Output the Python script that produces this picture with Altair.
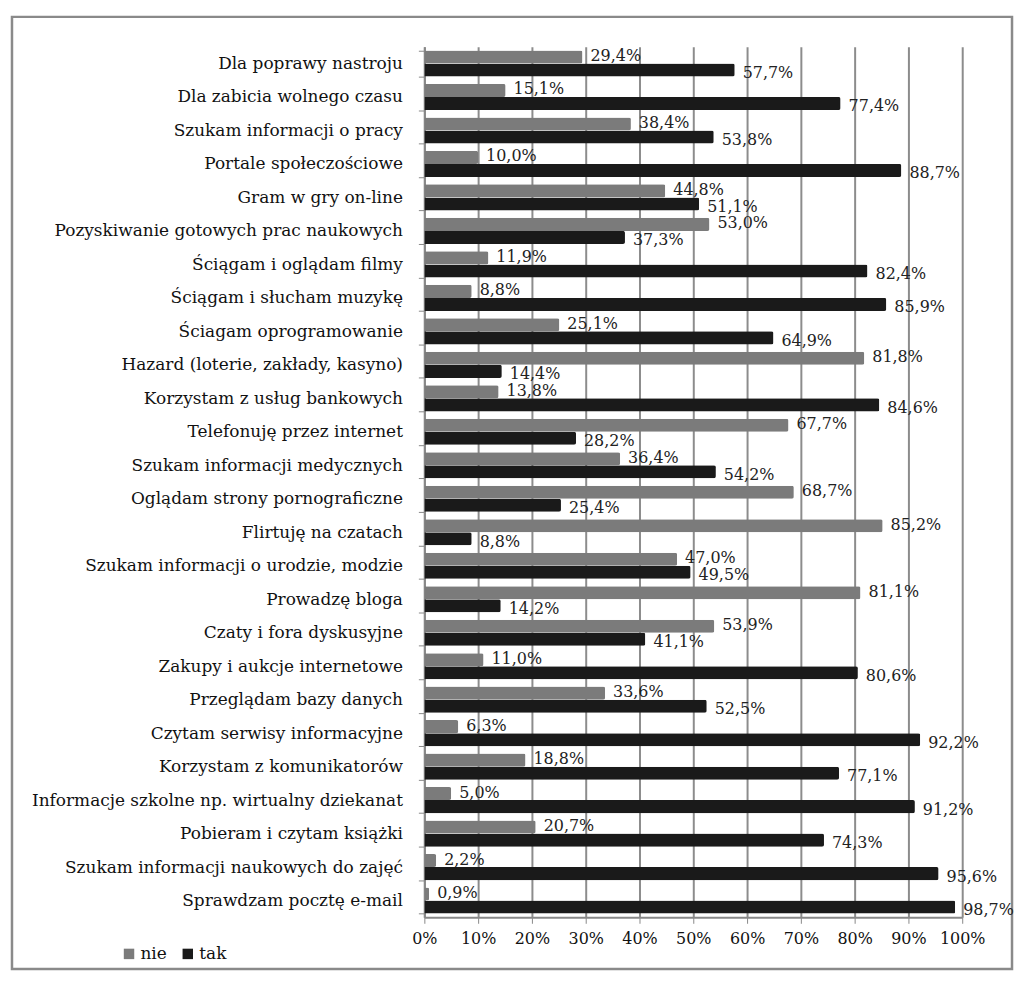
import altair as alt
import pandas as pd

categories = [
    "Dla poprawy nastroju",
    "Dla zabicia wolnego czasu",
    "Szukam informacji  o pracy",
    "Portale społeczościowe",
    "Gram w gry on-line",
    "Pozyskiwanie gotowych prac naukowych",
    "Ściągam i oglądam filmy",
    "Ściągam i słucham muzykę",
    "Ściagam oprogramowanie",
    "Hazard (loterie, zakłady, kasyno)",
    "Korzystam z usług bankowych",
    "Telefonuję przez internet",
    "Szukam informacji medycznych",
    "Oglądam strony pornograficzne",
    "Flirtuję na czatach",
    "Szukam informacji o urodzie, modzie",
    "Prowadzę bloga",
    "Czaty i fora dyskusyjne",
    "Zakupy i aukcje internetowe",
    "Przeglądam bazy danych",
    "Czytam serwisy informacyjne",
    "Korzystam z komunikatorów",
    "Informacje szkolne np. wirtualny dziekanat",
    "Pobieram i czytam książki",
    "Szukam informacji naukowych do zajęć",
    "Sprawdzam pocztę e-mail",
]
nie = [29.4, 15.1, 38.4, 10.0, 44.8, 53.0, 11.9, 8.8, 25.1, 81.8, 13.8, 67.7, 36.4,
       68.7, 85.2, 47.0, 81.1, 53.9, 11.0, 33.6, 6.3, 18.8, 5.0, 20.7, 2.2, 0.9]
tak = [57.7, 77.4, 53.8, 88.7, 51.1, 37.3, 82.4, 85.9, 64.9, 14.4, 84.6, 28.2, 54.2,
       25.4, 8.8, 49.5, 14.2, 41.1, 80.6, 52.5, 92.2, 77.1, 91.2, 74.3, 95.6, 98.7]
series = ["nie", "tak"]
colors = ["#7b7b7b", "#1a1a1a"]
tick_values = list(range(0, 101, 10))

rows = []
for c, a, b in zip(categories, nie, tak):
    for s, v in zip(series, (a, b)):
        rows.append({"cat": c, "seria": s, "val": v,
                     "label": f"{v:.1f}%".replace(".", ",")})
df = pd.DataFrame(rows)

FONT = "DejaVu Serif"

y_enc = alt.Y("cat:N", sort=categories, title=None,
              scale=alt.Scale(paddingInner=0.22, paddingOuter=0.11),
              axis=alt.Axis(labelFont=FONT, labelFontSize=17, labelColor="#111",
                            labelPadding=16, tickBand="extent", tickSize=6,
                            tickColor="#888", domainColor="#888", domainWidth=2,
                            labelLimit=500))
yoff = alt.YOffset("seria:N", sort=series,
                   scale=alt.Scale(paddingInner=0, paddingOuter=0))
x_enc = alt.X("val:Q", title=None,
              scale=alt.Scale(domain=[0, 100], nice=False),
              axis=alt.Axis(values=tick_values,
                            labelExpr="datum.value + '%'",
                            labelOverlap=False, labelFlush=False,
                            labelFont=FONT, labelFontSize=16, labelColor="#111",
                            labelPadding=7, tickSize=6, tickColor="#888",
                            domainColor="#888", domainWidth=2,
                            grid=True, gridColor="#8c8c8c", gridWidth=2))

bars = alt.Chart(df).mark_bar(cornerRadiusEnd=2).encode(
    x=x_enc, y=y_enc, yOffset=yoff,
    color=alt.Color("seria:N", sort=series,
                    scale=alt.Scale(domain=series, range=colors),
                    legend=alt.Legend(title=None, orient="none", legendX=-305,
                                      legendY=902, direction="horizontal",
                                      symbolType="square", symbolSize=110,
                                      symbolStrokeWidth=0,
                                      labelFont=FONT, labelFontSize=17,
                                      labelColor="#111", columnPadding=12,
                                      labelOffset=3)),
)

txt_nie = alt.Chart(df).transform_filter("datum.seria == 'nie'").mark_text(
    align="left", baseline="middle", dx=8, dy=-1, font=FONT, fontSize=16,
    color="#222").encode(x="val:Q", y=alt.Y("cat:N", sort=categories),
                         yOffset=yoff, text="label:N")
txt_tak = alt.Chart(df).transform_filter("datum.seria == 'tak'").mark_text(
    align="left", baseline="middle", dx=8, dy=3, font=FONT, fontSize=16,
    color="#222").encode(x="val:Q", y=alt.Y("cat:N", sort=categories),
                         yOffset=yoff, text="label:N")

frame = alt.Chart(pd.DataFrame({"a": [0]})).mark_rect(
    fill=None, stroke="#8a8a8a", strokeWidth=2.5).encode(
    x=alt.value(-414), x2=alt.value(590), y=alt.value(-30), y2=alt.value(926))

chart = alt.layer(frame, bars, txt_nie, txt_tak).properties(
    width=540, height=874,
    autosize=alt.AutoSizeParams(type="none"),
    padding={"left": 418, "top": 37, "right": 54, "bottom": 53},
).configure_view(stroke=None)

chart.save("out.html", embed_options={"renderer": "svg", "actions": False})
